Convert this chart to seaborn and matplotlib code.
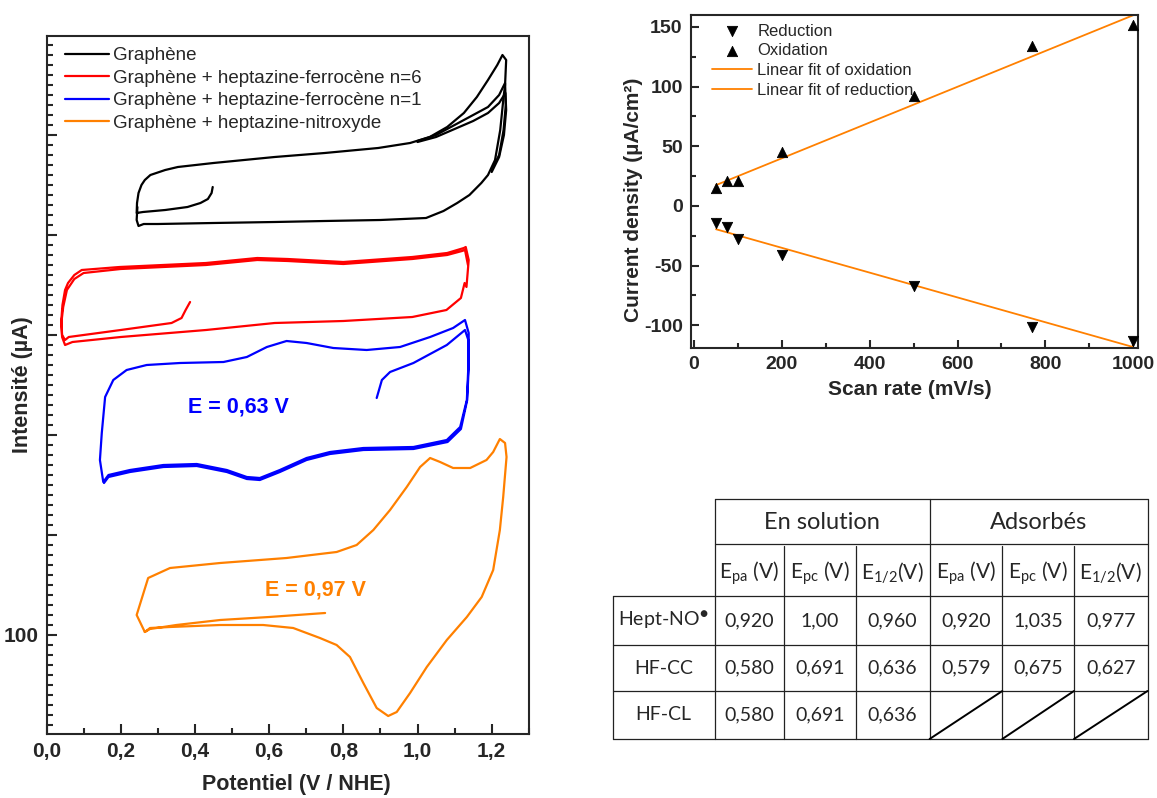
import numpy as np
import pandas as pd
import seaborn as sns
import matplotlib.pyplot as plt
from matplotlib.ticker import MultipleLocator, FuncFormatter

# ---------------------------
# Global settings
# ---------------------------
sns.set_style("ticks")
plt.rcParams["font.family"] = ["Liberation Sans", "DejaVu Sans"]
plt.rcParams["mathtext.default"] = "regular"
plt.rcParams["axes.unicode_minus"] = False

# ---------------------------
# Data: cyclic voltammograms (E in V / NHE, I in uA, offset curves)
# ---------------------------
graph_E = [0.448, 0.445, 0.435, 0.415, 0.38, 0.32, 0.26, 0.243, 0.244, 0.248, 0.256, 0.265, 0.28, 0.32,
           0.354, 0.45, 0.615, 0.75, 0.894, 0.98, 1.033, 1.08, 1.125, 1.16, 1.19, 1.215, 1.229,
           1.239, 1.236, 1.232, 1.223, 1.209, 1.19, 1.172, 1.14, 1.107, 1.07, 1.023, 0.9, 0.75,
           0.615, 0.45, 0.30, 0.262, 0.248, 0.243, 0.245]
graph_I = [548, 542, 536, 532, 528, 525, 523, 522, 532, 542, 550, 555, 560, 565,
           568, 572, 578, 582, 587, 592, 598, 608, 622, 638, 655, 670, 680,
           675, 650, 638, 605, 575, 560, 552, 540, 532, 524, 517, 515, 514,
           513, 512, 511, 511, 509, 515, 528]
graph2_E = [1.0, 1.05, 1.1, 1.15, 1.19, 1.22, 1.236, 1.238, 1.232, 1.22, 1.2]
graph2_I = [594, 600, 610, 620, 628, 640, 652, 630, 605, 580, 565]
graph3_E = [1.0, 1.05, 1.1, 1.15, 1.19, 1.22, 1.237, 1.239, 1.233, 1.22, 1.2]
graph3_I = [593, 598, 606, 614, 622, 632, 642, 625, 600, 578, 563]

fc6_E = [0.387, 0.375, 0.364, 0.337, 0.2, 0.06, 0.05, 0.042, 0.04, 0.043, 0.05, 0.058, 0.075,
         0.095, 0.197, 0.43, 0.568, 0.65, 0.8, 0.986, 1.08, 1.125, 1.13, 1.138, 1.132, 1.127,
         1.117, 1.078, 0.986, 0.8, 0.615, 0.43, 0.2, 0.07, 0.05, 0.042, 0.04, 0.045, 0.055, 0.075,
         0.1, 0.2, 0.43, 0.568, 0.65, 0.8, 0.986, 1.08, 1.12, 1.128, 1.136]
fc6_I = [433, 425, 417, 412, 405, 398, 395, 400, 415, 430, 445, 452, 460,
         465, 468, 472, 477, 476, 473, 478, 482, 487, 488, 475, 448, 452,
         437, 425, 418, 414, 412, 405, 398, 393, 390, 398, 412, 428, 445, 456,
         462, 466, 470, 475, 474, 471, 476, 480, 484, 485, 470]

fc1_E = [0.890, 0.904, 0.926, 0.989, 1.079, 1.128, 1.137, 1.137, 1.133, 1.115, 1.079, 0.989, 0.854,
         0.764, 0.701, 0.629, 0.575, 0.540, 0.486, 0.405, 0.315, 0.225, 0.167, 0.153, 0.144, 0.149,
         0.158, 0.180, 0.216, 0.270, 0.360, 0.477, 0.540, 0.594, 0.647, 0.701, 0.773, 0.863, 0.953,
         1.034, 1.096, 1.128, 1.138, 1.138, 1.134, 1.117, 1.081, 0.989, 0.854, 0.764, 0.701, 0.629,
         0.575, 0.540, 0.486, 0.405, 0.315, 0.225, 0.167, 0.155]
fc1_I = [337, 355, 363, 372, 390, 405, 395, 368, 335, 308, 295, 288, 287,
         283, 277, 265, 257, 258, 265, 271, 270, 265, 260, 253, 275, 302,
         338, 355, 365, 370, 372, 373, 378, 388, 394, 392, 387, 385, 388,
         398, 407, 415, 402, 368, 335, 306, 293, 286, 285, 281, 275, 263,
         255, 256, 263, 269, 268, 263, 258, 252]

nitro_E = [0.751, 0.60, 0.468, 0.35, 0.279, 0.265, 0.243, 0.274, 0.333, 0.468, 0.647, 0.782, 0.836,
           0.881, 0.926, 0.971, 1.007, 1.034, 1.061, 1.096, 1.142, 1.186, 1.204, 1.222, 1.236, 1.240,
           1.231, 1.222, 1.204, 1.173, 1.133, 1.079, 1.025, 0.980, 0.944, 0.921, 0.890, 0.854, 0.818,
           0.782, 0.737, 0.665, 0.584, 0.468, 0.333, 0.279, 0.265]
nitro_I = [122, 118, 115, 110, 106, 103, 120, 157, 167, 172, 177, 183, 190,
           205, 225, 248, 268, 277, 273, 267, 267, 275, 283, 296, 292, 278,
           238, 205, 165, 138, 118, 95, 68, 42, 23, 19, 27, 52, 78,
           90, 97, 107, 110, 110, 108, 107, 103]

# ---------------------------
# Data: peak current vs scan rate
# ---------------------------
scan_rate = [50, 75, 100, 200, 500, 770, 1000]
oxidation = [15, 21, 21, 45, 92, 134, 152]
reduction = [-14, -18, -28, -41, -67, -101, -113]
fit_rate = [50, 1000]
fit_oxidation = [17.5, 159.8]
fit_reduction = [-19.5, -118.2]

# ---------------------------
# Data: table of potentials
# ---------------------------
groups = ["En solution", "Adsorbés"]
sub_headers = [r"E$_{pa}$ (V)", r"E$_{pc}$ (V)", r"E$_{1/2}$(V)"] * 2
compounds = ["Hept-NO$^{\u25cf}$", "HF-CC", "HF-CL"]
values = [
    ["0,920", "1,00", "0,960", "0,920", "1,035", "0,977"],
    ["0,580", "0,691", "0,636", "0,579", "0,675", "0,627"],
    ["0,580", "0,691", "0,636", None, None, None],
]

W, H = 1157, 798
fig = plt.figure(figsize=(W / 100, H / 100), dpi=100)

# ---------------------------
# 1. Cyclic voltammograms
# ---------------------------
ax1 = fig.add_axes([46.5 / W, (H - 734) / H, 482.3 / W, 698 / H])
lw = 1.6
sns.lineplot(x=graph_E, y=graph_I, sort=False, estimator=None, color="black", lw=lw, ax=ax1, label="Graphène")
sns.lineplot(x=graph2_E, y=graph2_I, sort=False, estimator=None, color="black", lw=lw, ax=ax1)
sns.lineplot(x=graph3_E, y=graph3_I, sort=False, estimator=None, color="black", lw=lw, ax=ax1)
sns.lineplot(x=fc6_E, y=fc6_I, sort=False, estimator=None, color="#FF0000", lw=lw, ax=ax1,
             label="Graphène + heptazine-ferrocène n=6")
sns.lineplot(x=fc1_E, y=fc1_I, sort=False, estimator=None, color="#0000FF", lw=lw, ax=ax1,
             label="Graphène + heptazine-ferrocène n=1")
sns.lineplot(x=nitro_E, y=nitro_I, sort=False, estimator=None, color="#FF8000", lw=lw, ax=ax1,
             label="Graphène + heptazine-nitroxyde")

ax1.text(0.382, 328, "E = 0,63 V", color="#0000FF", fontsize=15.5, fontweight="bold", ha="left", va="center")
ax1.text(0.589, 145, "E = 0,97 V", color="#FF8000", fontsize=15.5, fontweight="bold", ha="left", va="center")

ax1.set_xlim(0, 1.3)
ax1.set_ylim(1, 699)
ax1.xaxis.set_major_locator(MultipleLocator(0.2))
ax1.xaxis.set_minor_locator(MultipleLocator(0.1))
ax1.yaxis.set_major_locator(MultipleLocator(100))
ax1.yaxis.set_minor_locator(MultipleLocator(10))
ax1.xaxis.set_major_formatter(FuncFormatter(lambda v, p: f"{v:.1f}".replace(".", ",")))
ax1.yaxis.set_major_formatter(FuncFormatter(lambda v, p: "100" if abs(v - 100) < 1 else ""))
ax1.tick_params(which="both", direction="in", width=1.5, top=False, right=False)
ax1.tick_params(which="major", length=7, labelsize=15, pad=6)
ax1.tick_params(which="minor", length=4)
for lab in ax1.get_xticklabels() + ax1.get_yticklabels():
    lab.set_fontweight("bold")
for s in ax1.spines.values():
    s.set_linewidth(1.5)
ax1.set_xlabel("Potentiel (V / NHE)", fontsize=15.5, fontweight="bold")
ax1.set_ylabel("Intensité (µA)", fontsize=15.5, fontweight="bold")
ax1.xaxis.set_label_coords(0.519, -0.057)
ax1.yaxis.set_label_coords(-0.028, 0.5)
ax1.legend(loc="upper left", frameon=False, fontsize=13.5, handlelength=2.33, handletextpad=0.22,
           labelspacing=0.28, borderaxespad=0.2, bbox_to_anchor=(0.015, 1.0))

# ---------------------------
# 2. Peak current density vs scan rate
# ---------------------------
ax2 = fig.add_axes([691 / W, (H - 348) / H, 447 / W, 333 / H])
sns.scatterplot(x=scan_rate, y=reduction, marker="v", color="black", edgecolor="black", s=55, ax=ax2,
                label="Reduction", zorder=3)
sns.scatterplot(x=scan_rate, y=oxidation, marker="^", color="black", edgecolor="black", s=55, ax=ax2,
                label="Oxidation", zorder=3)
sns.lineplot(x=fit_rate, y=fit_oxidation, color="#FF8000", lw=1.3, ax=ax2, label="Linear fit of oxidation")
sns.lineplot(x=fit_rate, y=fit_reduction, color="#FF8000", lw=1.3, ax=ax2, label="Linear fit of reduction")
ax2.set_xlim(-7, 1011)
ax2.set_ylim(-119, 160)
ax2.xaxis.set_major_locator(MultipleLocator(200))
ax2.xaxis.set_minor_locator(MultipleLocator(100))
ax2.yaxis.set_major_locator(MultipleLocator(50))
ax2.yaxis.set_minor_locator(MultipleLocator(25))
ax2.tick_params(which="both", direction="in", width=1.5, top=False, right=False)
ax2.tick_params(which="major", length=6, labelsize=14, pad=6)
ax2.tick_params(which="minor", length=3.5)
for lab in ax2.get_xticklabels() + ax2.get_yticklabels():
    lab.set_fontweight("bold")
for s in ax2.spines.values():
    s.set_linewidth(1.5)
ax2.set_xlabel("Scan rate (mV/s)", fontsize=15, fontweight="bold")
ax2.set_ylabel("Current density (µA/cm²)", fontsize=15, fontweight="bold")
ax2.xaxis.set_label_coords(0.49, -0.096)
ax2.yaxis.set_label_coords(-0.107, 0.444)
ax2.legend(loc="upper left", frameon=False, fontsize=12, handlelength=2.4, handletextpad=0.3,
           labelspacing=0.28, borderpad=0.2, borderaxespad=0, bbox_to_anchor=(0.04, 0.984))

# ---------------------------
# 3. Table of potentials
# ---------------------------
ax3 = fig.add_axes([0, 0, 1, 1])
ax3.set_xlim(0, W)
ax3.set_ylim(H, 0)
ax3.axis("off")
col_x = [714.5, 784, 855.7, 929.6, 1002.3, 1074, 1147.5]
row_y = [499, 544, 596, 645, 691, 739]
lab_x = 612.5
tc = "#222222"
tlw = 0.9
ax3.plot([col_x[0], col_x[-1]], [row_y[0], row_y[0]], color=tc, lw=tlw)
ax3.plot([col_x[0], col_x[-1]], [row_y[1], row_y[1]], color=tc, lw=tlw)
for y in row_y[2:]:
    ax3.plot([lab_x, col_x[-1]], [y, y], color=tc, lw=tlw)
ax3.plot([lab_x, lab_x], [row_y[2], row_y[-1]], color=tc, lw=tlw)
for x in [col_x[0], col_x[3], col_x[6]]:
    ax3.plot([x, x], [row_y[0], row_y[-1]], color=tc, lw=tlw)
for x in [col_x[1], col_x[2], col_x[4], col_x[5]]:
    ax3.plot([x, x], [row_y[1] + 2, row_y[-1]], color=tc, lw=tlw)

tfont = ["Lato", "DejaVu Sans"]
ax3.text((col_x[0] + col_x[3]) / 2, (row_y[0] + row_y[1]) / 2 + 1, groups[0], fontsize=17, family=tfont,
         ha="center", va="center")
ax3.text((col_x[3] + col_x[6]) / 2, (row_y[0] + row_y[1]) / 2 + 1, groups[1], fontsize=17, family=tfont,
         ha="center", va="center")
for j, sh in enumerate(sub_headers):
    ax3.text((col_x[j] + col_x[j + 1]) / 2, (row_y[1] + row_y[2]) / 2 + 3, sh, fontsize=15, family=tfont,
             ha="center", va="center")
for i, name in enumerate(compounds):
    yc = (row_y[i + 2] + row_y[i + 3]) / 2
    ax3.text((lab_x + col_x[0]) / 2, yc, name, fontsize=14, family=tfont, ha="center", va="center")
    for j, val in enumerate(values[i]):
        if val is None:
            ax3.plot([col_x[j], col_x[j + 1]], [row_y[i + 3], row_y[i + 2]], color="black", lw=1.4)
        else:
            ax3.text((col_x[j] + col_x[j + 1]) / 2, yc, val, fontsize=14, family=tfont,
                     ha="center", va="center")

fig.savefig("out.png", dpi=100)
